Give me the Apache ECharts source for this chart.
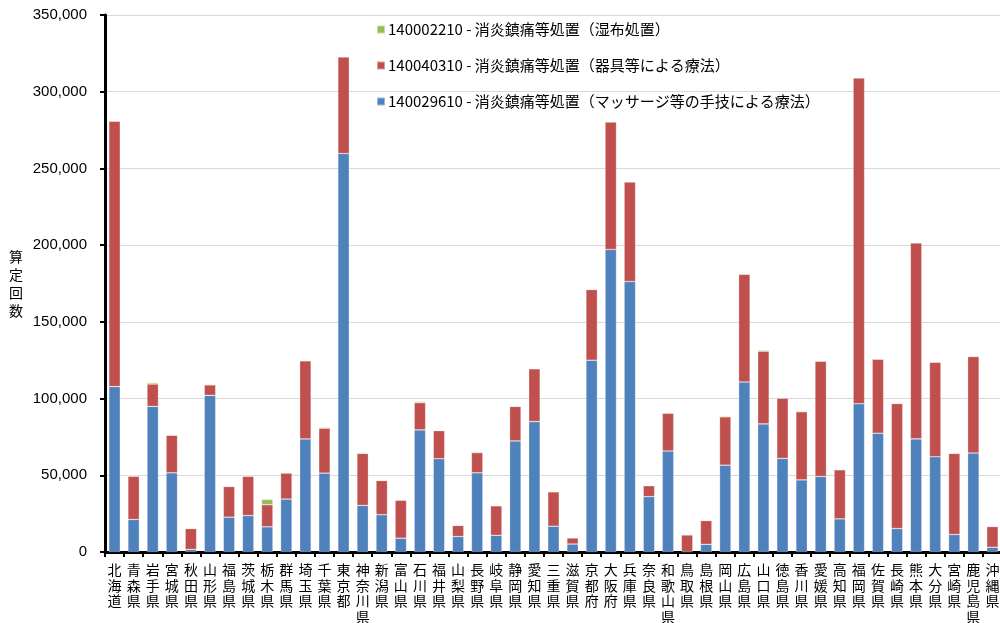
<!DOCTYPE html>
<html>
<head>
<meta charset="utf-8">
<script src="https://cdn.jsdelivr.net/npm/echarts@6/dist/echarts.min.js"></script>
<style>html,body{margin:0;padding:0;background:#fff;}#c{width:1000px;height:623px;}</style>
</head>
<body>
<div id="c"></div>
<script>
const categories = ['北海道','青森県','岩手県','宮城県','秋田県','山形県','福島県','茨城県','栃木県','群馬県','埼玉県','千葉県','東京都','神奈川県','新潟県','富山県','石川県','福井県','山梨県','長野県','岐阜県','静岡県','愛知県','三重県','滋賀県','京都府','大阪府','兵庫県','奈良県','和歌山県','鳥取県','島根県','岡山県','広島県','山口県','徳島県','香川県','愛媛県','高知県','福岡県','佐賀県','長崎県','熊本県','大分県','宮崎県','鹿児島県','沖縄県'];

const seriesNames = [
  '140029610 - 消炎鎮痛等処置（マッサージ等の手技による療法）',
  '140040310 - 消炎鎮痛等処置（器具等による療法）',
  '140002210 - 消炎鎮痛等処置（湿布処置）'
];

const massage = [107800,21200,94900,51600,1700,102100,22700,23800,16400,34500,73700,51400,259700,30400,24300,9000,79600,60800,10100,51600,10900,72400,85000,16800,5200,125000,197200,176300,36100,65800,300,5000,56600,110800,83500,61000,47000,49200,21600,96600,77400,15300,73700,62100,11400,64500,3100];

const kigu = [173000,28200,14600,24500,13600,6800,20000,25600,14400,17000,50900,29300,63000,33900,22300,24800,17700,18300,7200,13100,19200,22500,34400,22400,4000,46100,83100,64900,7100,24700,10800,15500,31500,70200,47400,39300,44400,75200,32000,212400,48300,81500,127800,61600,52900,62900,13500];

const shippu = [300,400,900,300,100,500,300,200,3500,200,300,600,300,300,300,300,800,200,200,700,300,200,400,300,100,200,200,300,200,300,500,200,600,200,700,200,600,200,200,200,200,300,200,200,200,200,200];

const yTicks = [0,50000,100000,150000,200000,250000,300000,350000];

const colors = ['#4F81BD','#C0504D','#9BBB59'];
const chart = echarts.init(document.getElementById('c'));
const numFont = 'Liberation Sans, Noto Sans CJK JP, sans-serif';
const cjkFont = 'Noto Sans CJK JP, sans-serif';

const series = [massage, kigu, shippu].map((d, i) => ({
  name: seriesNames[i],
  type: 'bar',
  stack: 'total',
  data: d,
  barCategoryGap: '40%',
  itemStyle: { color: colors[i], borderColor: 'rgba(255,255,255,0.45)', borderWidth: 0.6 },
  emphasis: { disabled: true }
}));

chart.setOption({
  animation: false,
  color: colors,
  grid: { left: 105, top: 15, width: 897, height: 537, containLabel: false, outerBoundsMode: 'none' },
  legend: {
    orient: 'vertical',
    left: 371,
    top: 17,
    itemWidth: 8,
    itemHeight: 8,
    itemGap: 21,
    icon: 'rect',
    data: [seriesNames[2], seriesNames[1], seriesNames[0]],
    textStyle: { fontFamily: cjkFont, fontSize: 15, color: '#000', padding: [0, 0, 0, -2] }
  },
  xAxis: {
    type: 'category',
    data: categories,
    boundaryGap: true,
    axisLine: { lineStyle: { color: '#000', width: 3 } },
    axisTick: { show: true, length: 5, lineStyle: { color: '#000', width: 2 } },
    axisLabel: {
      interval: 0,
      margin: 10,
      fontFamily: cjkFont,
      fontSize: 14,
      lineHeight: 15.5,
      color: '#000',
      formatter: v => v.split('').join('\n')
    }
  },
  yAxis: {
    type: 'value',
    min: 0,
    max: 350000,
    interval: 50000,
    name: '算\n定\n回\n数',
    nameLocation: 'middle',
    nameRotate: 0,
    nameGap: 82,
    nameTextStyle: { fontFamily: cjkFont, fontSize: 14, lineHeight: 18, color: '#000' },
    axisLine: { show: true, lineStyle: { color: '#000', width: 3 } },
    axisTick: { show: true, length: 5, lineStyle: { color: '#000', width: 2 } },
    splitLine: { lineStyle: { color: '#d9d9d9', width: 1 } },
    axisLabel: {
      margin: 18,
      fontFamily: numFont,
      fontSize: 15,
      color: '#000',
      formatter: v => yTicks.includes(v) ? v.toLocaleString('en-US') : ''
    }
  },
  series: series
});
</script>
</body>
</html>
